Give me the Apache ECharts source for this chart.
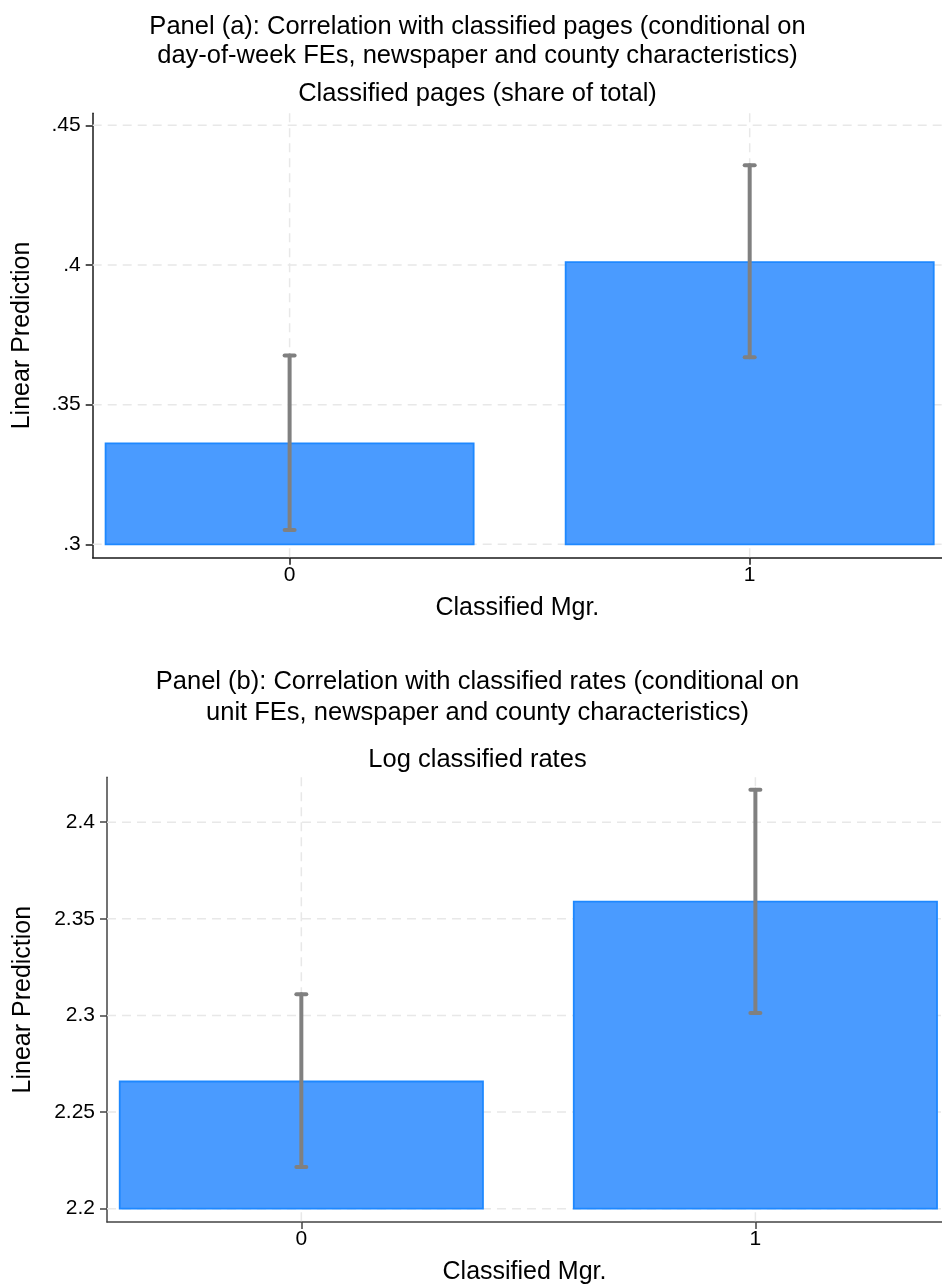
<!DOCTYPE html>
<html>
<head>
<meta charset="utf-8">
<script src="https://cdn.jsdelivr.net/npm/echarts@6/dist/echarts.min.js"></script>
<style>
html,body{margin:0;padding:0;background:#fff;}
#chart{width:942px;height:1286px;}
</style>
</head>
<body>
<div id="chart"></div>
<script>
// ---------- data ----------
const categories = [0, 1];
const categoryLabels = ['0', '1'];

// Panel (a): Classified pages (share of total)
const predA = [0.3361, 0.4010];
const ciLowA = [0.3051, 0.3670];
const ciHighA = [0.3676, 0.4357];
const yTicksA = [0.3, 0.35, 0.4, 0.45];
const yTickLabelsA = ['.3', '.35', '.4', '.45'];
const baseA = 0.3;

// Panel (b): Log classified rates
const predB = [2.2658, 2.3589];
const ciLowB = [2.2216, 2.3013];
const ciHighB = [2.3110, 2.4167];
const yTicksB = [2.2, 2.25, 2.3, 2.35, 2.4];
const yTickLabelsB = ['2.2', '2.25', '2.3', '2.35', '2.4'];
const baseB = 2.2;

const titleA = 'Panel (a): Correlation with classified pages (conditional on\nday-of-week FEs, newspaper and county characteristics)';
const subA = 'Classified pages (share of total)';
const titleB = 'Panel (b): Correlation with classified rates (conditional on\nunit FEs, newspaper and county characteristics)';
const subB = 'Log classified rates';
const yName = 'Linear Prediction';
const xName = 'Classified Mgr.';

// ---------- styling ----------
const FONT = "'Liberation Sans', Arial, Helvetica, sans-serif";
const BAR_W = 0.8;
const BAR_FILL = '#4a9bff';
const BAR_STROKE = '#1e88ff';
const ERR_COLOR = '#808080';
const GRID_COLOR = '#e8e8e8';

function labelMap(ticks, labels) {
  return function (v) {
    for (let i = 0; i < ticks.length; i++) if (Math.abs(ticks[i] - v) < 1e-9) return labels[i];
    return '';
  };
}

function xAxisFor(gi, xMin, xMax, axisColor) {
  return {
    type: 'value', gridIndex: gi, min: xMin, max: xMax,
    name: xName, nameLocation: 'middle', nameGap: 38,
    nameTextStyle: {fontFamily: FONT, fontSize: 25, color: '#000'},
    axisLine: {show: true, onZero: false, lineStyle: {color: axisColor, width: 1.5}},
    axisTick: {show: true, customValues: categories, length: 7, lineStyle: {color: axisColor, width: 1.5}},
    axisLabel: {show: true, customValues: categories, margin: 7, fontFamily: FONT, fontSize: 21, color: '#000',
      formatter: labelMap(categories, categoryLabels)},
    splitLine: {show: false}
  };
}

function yAxisFor(gi, yMin, yMax, ticks, labels, nameGap, axisColor) {
  return {
    type: 'value', gridIndex: gi, min: yMin, max: yMax,
    name: yName, nameLocation: 'middle', nameRotate: 90, nameGap: nameGap,
    nameTextStyle: {fontFamily: FONT, fontSize: 25, color: '#000'},
    axisLine: {show: true, onZero: false, lineStyle: {color: axisColor, width: 1.5}},
    axisTick: {show: true, customValues: ticks, length: 7, lineStyle: {color: axisColor, width: 1.5}},
    axisLabel: {show: true, customValues: ticks, margin: 12, fontFamily: FONT, fontSize: 21, color: '#000',
      formatter: labelMap(ticks, labels)},
    splitLine: {show: false}
  };
}

function gridSeries(gi, ticks, xMin) {
  const data = ticks.map(v => [xMin, v, 0]).concat(categories.map(c => [c, ticks[0], 1]));
  return {
    type: 'custom', xAxisIndex: gi, yAxisIndex: gi, z: 1, silent: true, data: data,
    renderItem: function (params, api) {
      const cs = params.coordSys;
      const p = api.coord([api.value(0), api.value(1)]);
      const style = {stroke: GRID_COLOR, lineWidth: 1.5, lineDash: [9, 6], fill: null};
      if (api.value(2) === 0) {
        return {type: 'line', shape: {x1: cs.x, y1: p[1], x2: cs.x + cs.width, y2: p[1]}, style: style};
      }
      return {type: 'line', shape: {x1: p[0], y1: cs.y, x2: p[0], y2: cs.y + cs.height}, style: style};
    }
  };
}

function barSeries(gi, pred, base) {
  return {
    type: 'custom', xAxisIndex: gi, yAxisIndex: gi, z: 2, silent: true,
    data: categories.map((c, i) => [c, pred[i], base]),
    renderItem: function (params, api) {
      const x = api.value(0);
      const p1 = api.coord([x - BAR_W / 2, api.value(1)]);
      const p2 = api.coord([x + BAR_W / 2, api.value(2)]);
      return {type: 'rect',
        shape: {x: p1[0], y: p1[1], width: p2[0] - p1[0], height: p2[1] - p1[1]},
        style: {fill: BAR_FILL, stroke: BAR_STROKE, lineWidth: 1.8}};
    }
  };
}

function errSeries(gi, lo, hi) {
  return {
    type: 'custom', xAxisIndex: gi, yAxisIndex: gi, z: 3, silent: true,
    data: categories.map((c, i) => [c, lo[i], hi[i]]),
    renderItem: function (params, api) {
      const pLo = api.coord([api.value(0), api.value(1)]);
      const pHi = api.coord([api.value(0), api.value(2)]);
      const st = {stroke: ERR_COLOR, lineWidth: 4, lineCap: 'round', fill: null};
      const cap = 5;
      return {type: 'group', children: [
        {type: 'line', shape: {x1: pLo[0], y1: pLo[1], x2: pHi[0], y2: pHi[1]}, style: st},
        {type: 'line', shape: {x1: pHi[0] - cap, y1: pHi[1], x2: pHi[0] + cap, y2: pHi[1]}, style: st},
        {type: 'line', shape: {x1: pLo[0] - cap, y1: pLo[1], x2: pLo[0] + cap, y2: pLo[1]}, style: st}
      ]};
    }
  };
}

const chart = echarts.init(document.getElementById('chart'), null, {renderer: 'canvas'});

const xMinA = -0.428, xMaxA = 1.418;
const xMinB = -0.428, xMaxB = 1.411;

const titleStyle = {fontFamily: FONT, fontSize: 25.5, fontWeight: 'normal', color: '#000'};

const option = {
  backgroundColor: '#fff',
  animation: false,
  title: [
    {text: titleA, left: 477.5, top: 13, textAlign: 'center', padding: 0,
      textStyle: Object.assign({lineHeight: 28.5}, titleStyle)},
    {text: subA, left: 477.5, top: 79, textAlign: 'center', padding: 0,
      textStyle: Object.assign({lineHeight: 29}, titleStyle)},
    {text: titleB, left: 477.5, top: 666, textAlign: 'center', padding: 0,
      textStyle: Object.assign({lineHeight: 31}, titleStyle)},
    {text: subB, left: 477.5, top: 745, textAlign: 'center', padding: 0,
      textStyle: Object.assign({lineHeight: 29}, titleStyle)}
  ],
  grid: [
    {left: 92.7, right: 0, top: 113.3, height: 444.4, containLabel: false},
    {left: 107, right: 0, top: 777.3, height: 445, containLabel: false}
  ],
  xAxis: [
    xAxisFor(0, xMinA, xMaxA, '#1a1a1a'),
    xAxisFor(1, xMinB, xMaxB, '#444')
  ],
  yAxis: [
    yAxisFor(0, 0.2952, 0.4543, yTicksA, yTickLabelsA, 58.5, '#1a1a1a'),
    yAxisFor(1, 2.1931, 2.4232, yTicksB, yTickLabelsB, 71.5, '#444')
  ],
  series: [
    gridSeries(0, yTicksA, xMinA),
    barSeries(0, predA, baseA),
    errSeries(0, ciLowA, ciHighA),
    gridSeries(1, yTicksB, xMinB),
    barSeries(1, predB, baseB),
    errSeries(1, ciLowB, ciHighB)
  ]
};
chart.setOption(option);
</script>
</body>
</html>
